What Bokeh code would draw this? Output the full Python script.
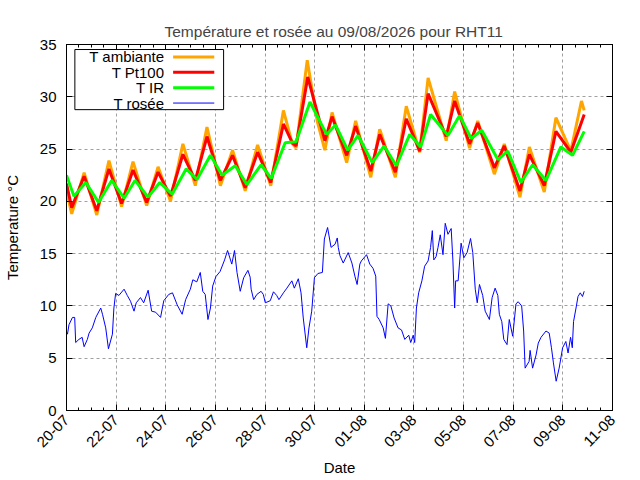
import math
import pandas as pd
from bokeh.plotting import figure
from bokeh.models import (Range1d, FixedTicker, DatetimeTickFormatter, DatetimeAxis, LinearAxis,
                          CustomJSTickFormatter, BoxAnnotation, Label)
from bokeh.embed import file_html
from bokeh.resources import INLINE

START = "2026-07-20"
END = "2026-08-11"
title_text = "Température et rosée au 09/08/2026 pour RHT11"
tick_dates = ["2026-07-20", "2026-07-22", "2026-07-24", "2026-07-26", "2026-07-28", "2026-07-30",
              "2026-08-01", "2026-08-03", "2026-08-05", "2026-08-07", "2026-08-09", "2026-08-11"]
y_ticks = [0, 5, 10, 15, 20, 25, 30, 35]
series_names = ["T ambiante", "T Pt100", "T IR", "T rosée"]
series_colors = ["#ffa500", "#ff0000", "#00ff00", "#0000ff"]

# time in days since 20-07 00:00
amb_t = [0.0, 0.21, 0.71, 1.22, 1.71, 2.22, 2.68, 3.23, 3.69, 4.19, 4.69, 5.19, 5.66, 6.2, 6.69, 7.2,
         7.7, 8.23, 8.74, 9.1, 9.25, 9.7, 10.1, 10.41, 10.7, 11.29, 11.65, 12.26, 12.62, 13.25, 13.69,
         14.23, 14.57, 15.3, 15.64, 16.24, 16.57, 17.24, 17.64, 18.27, 18.65, 19.25, 19.72, 20.32,
         20.75, 20.86]
amb_v = [21.0, 18.8, 22.75, 18.7, 23.9, 19.5, 23.8, 19.6, 23.3, 20.0, 25.5, 21.5, 27.1, 21.5, 24.9, 21.0,
         25.4, 21.5, 28.7, 25.5, 25.1, 33.5, 27.7, 24.9, 28.5, 23.7, 27.7, 22.3, 26.9, 22.3, 29.1,
         24.7, 31.8, 25.8, 30.5, 25.1, 27.7, 22.6, 25.5, 20.4, 25.2, 20.9, 28.0, 24.8,
         29.6, 28.7]

pt_t = [0.0, 0.21, 0.71, 1.22, 1.71, 2.22, 2.68, 3.23, 3.69, 4.19, 4.69, 5.19, 5.66, 6.2, 6.69, 7.2,
        7.7, 8.23, 8.74, 9.1, 9.25, 9.72, 10.41, 10.7, 11.29, 11.65, 12.26, 12.62, 13.25, 13.69,
        14.23, 14.57, 15.3, 15.64, 16.24, 16.57, 17.24, 17.64, 18.27, 18.65, 19.25, 19.72, 20.32,
        20.86]
pt_v = [21.7, 19.4, 22.4, 19.1, 23.1, 19.8, 23.0, 19.9, 22.8, 20.5, 24.5, 22.0, 26.2, 22.0, 24.4, 21.3,
        24.7, 21.8, 27.4, 25.6, 25.3, 31.9, 25.8, 28.1, 24.4, 27.2, 22.9, 26.4, 22.8, 27.9,
        24.8, 30.3, 26.2, 29.6, 25.5, 27.5, 23.2, 25.3, 21.0, 24.5, 21.5, 26.7, 24.7,
        28.3]

ir_t = [0.0, 0.3, 0.78, 1.29, 1.82, 2.32, 2.76, 3.29, 3.76, 4.26, 4.82, 5.26, 5.8, 6.27, 6.8, 7.27,
        7.84, 8.25, 8.81, 9.25, 9.81, 10.48, 10.84, 11.33, 11.75, 12.32, 12.8, 13.29, 13.83, 14.27,
        14.67, 15.37, 15.84, 16.31, 16.73, 17.38, 17.78, 18.31, 18.78, 19.32, 19.92, 20.39, 20.86]
ir_v = [22.5, 20.5, 21.8, 19.9, 22.0, 20.3, 22.0, 20.4, 21.8, 20.7, 23.1, 22.1, 24.4, 22.5, 23.4, 21.6,
        23.5, 22.2, 25.6, 25.7, 29.5, 26.4, 27.3, 24.9, 26.3, 23.7, 25.3, 23.4, 26.4, 25.2,
        28.3, 26.3, 28.2, 26.0, 26.8, 24.0, 24.8, 21.8, 23.5, 22.0, 25.2, 24.4, 26.7]

dew_t = [0.0, 0.04, 0.1, 0.24, 0.33, 0.37, 0.5, 0.63, 0.71, 0.84, 0.91, 1.04, 1.18, 1.38, 1.45, 1.58,
         1.69, 1.85, 1.91, 1.98, 2.11, 2.32, 2.45, 2.58, 2.72, 2.81, 2.98, 3.11, 3.29, 3.43, 3.59,
         3.79, 3.92, 4.12, 4.27, 4.46, 4.66, 4.8, 4.99, 5.09, 5.25, 5.39, 5.49, 5.59, 5.7, 5.8,
         5.89, 6.02, 6.19, 6.37, 6.49, 6.66, 6.77, 6.87, 7.0, 7.14, 7.31, 7.4, 7.44, 7.54, 7.67,
         7.84, 7.93, 8.01, 8.21, 8.34, 8.47, 8.56, 8.74, 8.88, 9.08, 9.18, 9.34, 9.45, 9.54, 9.68,
         9.77, 9.88, 9.99, 10.13, 10.31, 10.39, 10.52, 10.66, 10.82, 10.91, 10.95, 11.02, 11.15,
         11.35, 11.5, 11.62, 11.71, 11.82, 11.88, 12.09, 12.22, 12.35, 12.46, 12.51, 12.6, 12.76,
         12.85, 12.96, 13.07, 13.2, 13.36, 13.5, 13.63, 13.79, 13.87, 13.97, 14.03, 14.1, 14.19,
         14.32, 14.43, 14.57, 14.67, 14.74, 14.8, 14.89, 14.97, 15.06, 15.17, 15.26, 15.37, 15.5,
         15.57, 15.64, 15.68, 15.78, 15.9, 16.01, 16.14, 16.28, 16.37, 16.47, 16.55, 16.64, 16.77,
         16.87, 17.04, 17.15, 17.27, 17.38, 17.44, 17.54, 17.62, 17.75, 17.84, 17.98, 18.11, 18.2,
         18.34, 18.42, 18.48, 18.64, 18.68, 18.78, 18.92, 19.01, 19.12, 19.32, 19.45, 19.54, 19.62,
         19.73, 19.85, 19.99, 20.12, 20.21, 20.31, 20.38, 20.43, 20.53, 20.61, 20.7, 20.79, 20.86]
dew_v = [7.5, 7.3, 8.2, 8.9, 8.9, 6.5, 6.8, 7.0, 6.1, 6.8, 7.4, 7.9, 8.9, 9.8, 9.2, 7.9,
         5.9, 7.3, 9.8, 11.2, 11.0, 11.6, 11.0, 10.45, 9.5, 10.3, 10.8, 10.3, 11.5, 9.5, 9.4,
         8.9, 10.5, 11.1, 11.25, 10.1, 9.2, 10.6, 11.6, 12.5, 12.3, 13.2, 11.4, 11.1, 8.7, 9.8,
         11.9, 12.8, 13.3, 14.4, 15.3, 14.0, 15.3, 13.2, 11.4, 12.7, 13.4, 12.75, 11.6, 10.6, 11.1,
         11.4, 11.1, 10.3, 10.5, 11.35, 11.0, 10.6, 11.25, 11.7, 12.4, 11.7, 12.6, 11.25, 8.85, 6.0,
         7.9, 9.5, 12.7, 13.1, 13.2, 16.4, 17.5, 15.6, 15.9, 16.5, 15.6, 14.8, 14.1,
         15.1, 14.1, 12.85, 12.05, 14.0, 14.3, 14.9, 14.0, 13.6, 12.85, 9.0, 8.7, 7.9,
         6.9, 10.2, 10.0, 8.85, 7.9, 7.7, 6.8, 7.2, 6.5, 7.2, 6.5, 9.8, 11.25,
         12.4, 13.8, 14.3, 15.6, 17.2, 14.4, 14.7, 15.6, 16.8, 14.9, 17.9, 16.85, 17.4,
         14.3, 9.8, 12.4, 12.4, 16.0, 14.6, 15.1, 16.45, 15.1, 11.6, 10.3, 12.05, 11.0,
         9.5, 8.7, 10.8, 11.7, 11.0, 9.2, 8.5, 6.8, 6.3, 8.7, 7.1, 10.2, 10.4,
         10.0, 7.6, 4.05, 4.7, 5.75, 4.05, 5.3, 6.45, 7.0, 7.6, 7.4, 6.0, 4.55,
         2.8, 4.05, 6.0, 6.6, 5.5, 7.0, 6.0, 8.5, 9.8, 10.9, 11.25, 10.9, 11.4]

base = pd.Timestamp(START)
EPOCH = pd.Timestamp("1970-01-01")


def to_dt(days):
    return [base + pd.Timedelta(days=d) for d in days]


def ms(ts):
    return (pd.Timestamp(ts) - EPOCH) / pd.Timedelta(milliseconds=1)


FONT = "Liberation Sans"

p = figure(width=640, height=480, output_backend="svg", toolbar_location=None,
           x_axis_type="datetime",
           x_range=Range1d(start=pd.Timestamp(START), end=pd.Timestamp(END)),
           y_range=Range1d(start=0, end=35),
           min_border_left=64, min_border_right=28, min_border_top=44, min_border_bottom=70,
           title=title_text)

p.title.align = "left"
p.title.offset = 98
p.title.text_font = FONT
p.title.text_font_size = "15.5px"
p.title.text_font_style = "normal"

bottom_axis = p.below[0]
left_axis = p.left[0]

x_major = [ms(d) for d in tick_dates]
x_minor = [ms(d) for d in pd.date_range(START, END, freq="12h")]
x_ticker = FixedTicker(ticks=x_major, minor_ticks=x_minor)
y_ticker = FixedTicker(ticks=y_ticks, minor_ticks=[])
fmt = DatetimeTickFormatter(milliseconds="%d-%m", seconds="%d-%m", minsec="%d-%m", minutes="%d-%m",
                            hourmin="%d-%m", hours="%d-%m", days="%d-%m", months="%d-%m",
                            years="%d-%m")

bottom_axis.ticker = x_ticker
bottom_axis.formatter = fmt
left_axis.ticker = y_ticker
bottom_axis.major_label_orientation = math.pi / 4
bottom_axis.axis_label = "Date"
left_axis.axis_label = "Temperature °C"

blank = CustomJSTickFormatter(code="return ''")
top_axis = DatetimeAxis(ticker=x_ticker, formatter=blank, major_label_standoff=0)
right_axis = LinearAxis(ticker=y_ticker, formatter=blank, major_label_standoff=0)
p.add_layout(top_axis, "above")
p.add_layout(right_axis, "right")

for ax in [bottom_axis, left_axis, top_axis, right_axis]:
    ax.axis_line_color = "black"
    ax.axis_line_width = 1
    ax.major_tick_in = 6
    ax.major_tick_out = 0
    ax.minor_tick_in = 3
    ax.minor_tick_out = 0
    ax.major_tick_line_color = "black"
    ax.minor_tick_line_color = "black"
    ax.major_label_text_font = FONT
    ax.major_label_text_font_size = "15px"
    ax.major_label_text_color = "black"
    ax.axis_label_text_font = FONT
    ax.axis_label_text_font_size = "15px"
    ax.axis_label_text_font_style = "normal"
    ax.axis_label_text_color = "black"

bottom_axis.major_label_standoff = 7
bottom_axis.axis_label_standoff = 4
left_axis.major_label_standoff = 10
left_axis.axis_label_standoff = 16
top_axis.major_label_text_font_size = "1px"
right_axis.major_label_text_font_size = "1px"

p.xgrid.ticker = x_ticker
p.ygrid.ticker = y_ticker
for g in [p.xgrid[0], p.ygrid[0]]:
    g.grid_line_color = "#a0a0a0"
    g.grid_line_dash = "3 3"
    g.grid_line_width = 1

p.outline_line_color = "black"
p.background_fill_color = "white"
p.border_fill_color = "white"

p.line(to_dt(amb_t), amb_v, line_color=series_colors[0], line_width=3)
p.line(to_dt(pt_t), pt_v, line_color=series_colors[1], line_width=3)
p.line(to_dt(ir_t), ir_v, line_color=series_colors[2], line_width=3)
p.line(to_dt(dew_t), dew_v, line_color=series_colors[3], line_width=1)

# legend (gnuplot style: text right-aligned, sample on the right)
leg_left, leg_right = 0.337, 6.33
leg_top, leg_bottom = 34.52, 28.77
text_x = 3.94
samp_x0, samp_x1 = 4.296, 5.954
row_y = [33.81, 32.34, 30.87, 29.40]
widths = [3, 3, 3, 1]

p.add_layout(BoxAnnotation(left=ms(base + pd.Timedelta(days=leg_left)),
                           right=ms(base + pd.Timedelta(days=leg_right)),
                           top=leg_top, bottom=leg_bottom, fill_color="white", fill_alpha=1,
                           line_color="black", line_width=1, line_alpha=1))
for name, col, yy, w in zip(series_names, series_colors, row_y, widths):
    p.add_layout(Label(x=ms(base + pd.Timedelta(days=text_x)), y=yy, text=name, text_align="right",
                       text_baseline="middle", text_font=FONT, text_font_size="15px",
                       text_color="black"))
    p.segment(x0=[base + pd.Timedelta(days=samp_x0)], y0=[yy],
              x1=[base + pd.Timedelta(days=samp_x1)], y1=[yy], line_color=col, line_width=w,
              level="overlay")

open("out.html", "w").write(file_html(p, INLINE))
